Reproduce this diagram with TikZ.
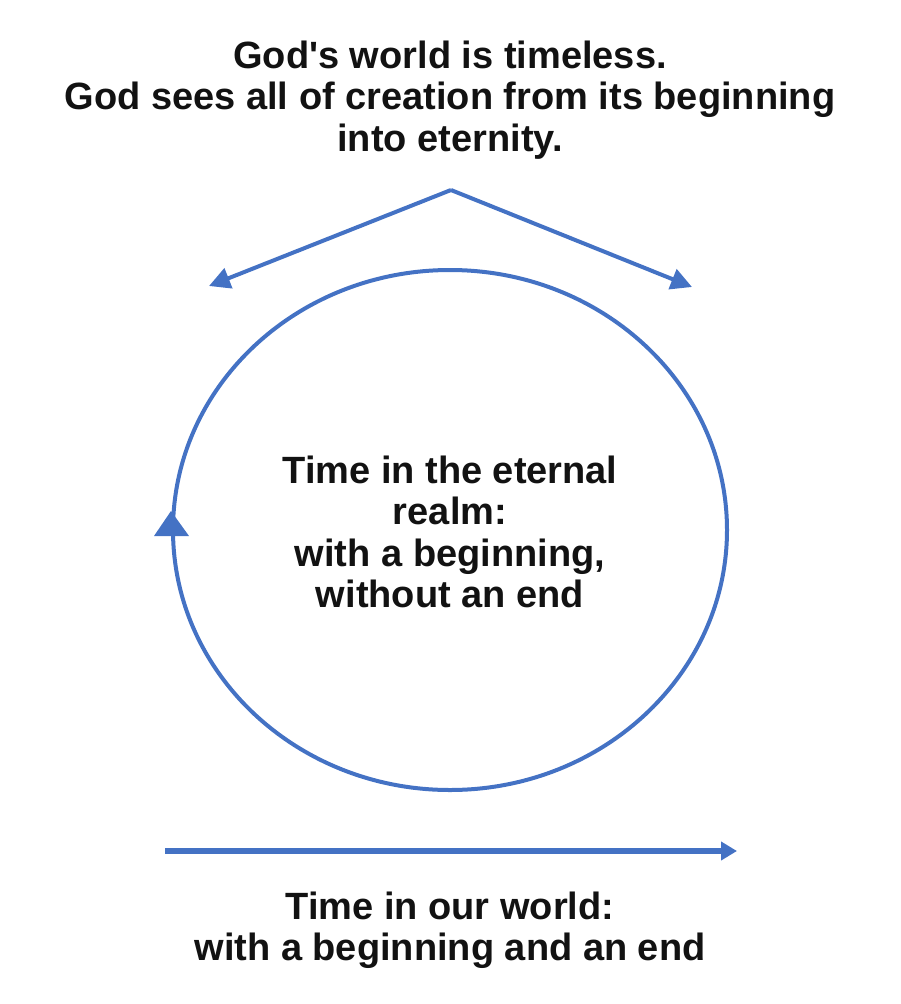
\documentclass[tikz,border=0pt]{standalone}
\usepackage{fontspec}
\setmainfont{Liberation Sans}[Ligatures=TeXOff]
\usetikzlibrary{arrows.meta}
\definecolor{arrblue}{HTML}{4472C4}
\begin{document}
\begin{tikzpicture}[x=1pt,y=-1pt,
  lbl/.style={font=\bfseries\fontsize{38}{41.5}\selectfont, align=center, text=black!93, inner sep=0pt},
  conn/.style={draw=arrblue, line width=4pt},
  tipA/.style={-{Triangle[length=21pt,width=21pt]}}]
\useasboundingbox (0,0) rectangle (900,1004);
\node[lbl] (top) at (450,100) {God's world is timeless.\\God sees all of creation from its beginning\\into eternity.};
\node[lbl] (mid) at (450,532) {Time in the eternal\\realm:\\with a beginning,\\without an end};
\node[lbl] (bot) at (450,930) {Time in our world:\\with a beginning and an end};
\coordinate (apex) at (451,190);
\coordinate (lend) at (209,286);
\coordinate (rend) at (692,287);
\coordinate (bstart) at (165,851);
\coordinate (bend) at (737,851);
\draw[conn, tipA] (apex) -- (lend);
\draw[conn, tipA] (apex) -- (rend);
\draw[conn, line width=5.5pt, -{Triangle[length=16pt,width=18pt]}] (bstart) -- (bend);
\draw[draw=arrblue, line width=4pt] (450,530) ellipse[x radius=277, y radius=260];
\fill[arrblue] (154,536) -- (171,511) -- (189,536) -- cycle;
\end{tikzpicture}
\end{document}
